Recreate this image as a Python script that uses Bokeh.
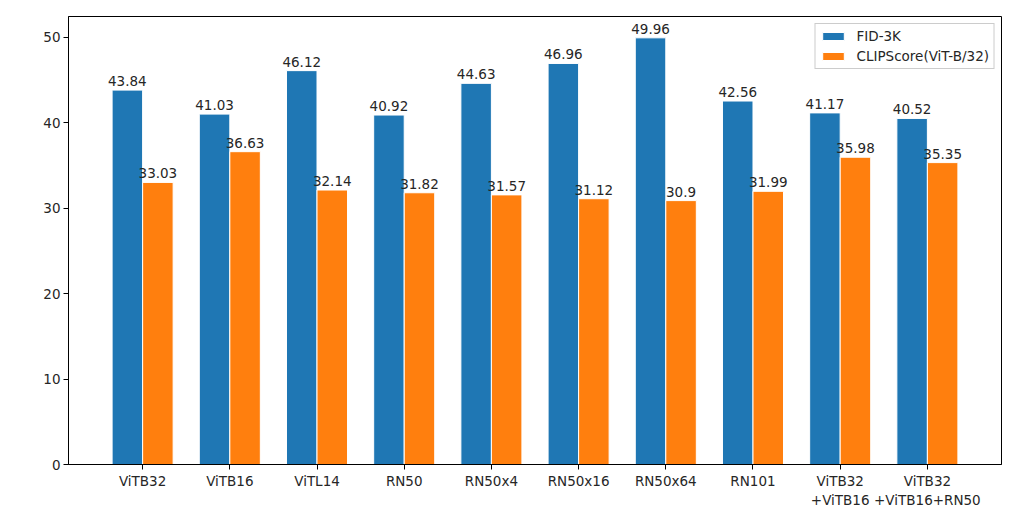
from bokeh.plotting import figure
from bokeh.models import ColumnDataSource, FixedTicker, Range1d, Legend, LegendItem
from bokeh.core.properties import value
from bokeh.embed import file_html
from bokeh.resources import INLINE

categories = ["ViTB32", "ViTB16", "ViTL14", "RN50", "RN50x4", "RN50x16",
              "RN50x64", "RN101", "ViTB32\n+ViTB16", "ViTB32\n+ViTB16+RN50"]
fid = [43.84, 41.03, 46.12, 40.92, 44.63, 46.96, 49.96, 42.56, 41.17, 40.52]
clip = [33.03, 36.63, 32.14, 31.82, 31.57, 31.12, 30.9, 31.99, 35.98, 35.35]
y_ticks = [0, 10, 20, 30, 40, 50]

BAR_W = 0.35
FONT = "DejaVu Sans"

idx = list(range(len(categories)))
src_fid = ColumnDataSource(dict(x=[i - BAR_W / 2 for i in idx], top=fid,
                                label=[str(v) for v in fid]))
src_clip = ColumnDataSource(dict(x=[i + BAR_W / 2 for i in idx], top=clip,
                                 label=[str(v) for v in clip]))

p = figure(width=1017, height=510, output_backend="svg", toolbar_location=None,
           x_range=Range1d(-0.85, 9.85), y_range=Range1d(0, 52.458),
           min_border_left=68, min_border_right=16, min_border_top=16,
           min_border_bottom=46)

r1 = p.vbar(x="x", top="top", width=BAR_W, source=src_fid,
            fill_color="#1f77b4", line_color="white", line_width=1)
r2 = p.vbar(x="x", top="top", width=BAR_W, source=src_clip,
            fill_color="#ff7f0e", line_color="white", line_width=1)

for s in (src_fid, src_clip):
    p.text(x="x", y="top", text="label", source=s, text_align="center",
           text_baseline="bottom", y_offset=-4, text_font_size="13.5px",
           text_color="#262626", text_font=value(FONT))

p.xaxis.ticker = FixedTicker(ticks=idx)
p.xaxis.major_label_overrides = {i: c for i, c in zip(idx, categories)}
p.yaxis.ticker = FixedTicker(ticks=y_ticks)

for ax in (p.xaxis, p.yaxis):
    ax.major_label_text_font = FONT
    ax.major_label_text_font_size = "13.5px"
    ax.major_label_text_color = "#262626"
    ax.major_tick_out = 5
    ax.major_tick_in = 0
    ax.minor_tick_out = 0
    ax.minor_tick_in = 0
    ax.axis_line_color = "black"
    ax.major_tick_line_color = "black"
    ax.major_label_standoff = 3

p.xgrid.visible = False
p.ygrid.visible = False
p.outline_line_color = "black"
p.outline_line_alpha = 1.0

legend = Legend(items=[LegendItem(label="FID-3K", renderers=[r1]),
                       LegendItem(label="CLIPScore(ViT-B/32)", renderers=[r2])],
                location="top_right")
legend.label_text_font = FONT
legend.label_text_font_size = "13.5px"
legend.label_text_color = "#262626"
legend.glyph_width = 27
legend.glyph_height = 10
legend.label_height = 16
legend.spacing = 4
legend.padding = 4
legend.margin = 7
legend.label_standoff = 10
legend.border_line_color = "#cccccc"
legend.border_line_alpha = 1.0
legend.background_fill_alpha = 0.8
p.add_layout(legend)

open("out.html", "w").write(file_html(p, INLINE))
